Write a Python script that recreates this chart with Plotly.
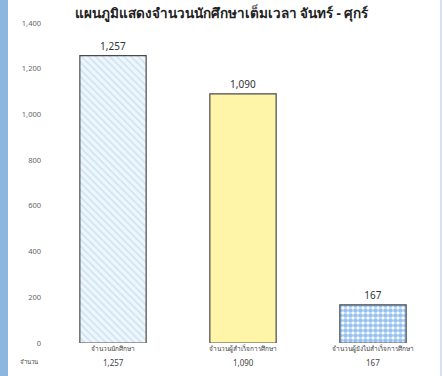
import plotly.graph_objects as go

title_text = "แผนภูมิแสดงจำนวนนักศึกษาเต็มเวลา จันทร์ - ศุกร์"
categories = ["จำนวนนักศึกษา", "จำนวนผู้สำเร็จการศึกษา", "จำนวนผู้ยังไม่สำเร็จการศึกษา"]
values = [1257, 1090, 167]
row_label = "จำนวน"
y_ticks = [0, 200, 400, 600, 800, 1000, 1200, 1400]

fig = go.Figure()

styles = [
    dict(shape="\\", fgcolor="#a9cfea", bgcolor="#eef6fb", size=5, solidity=0.3),
    dict(shape="", fgcolor="#fff3a6", bgcolor="#fff3a6"),
    dict(shape=".", fgcolor="#2f86e0", bgcolor="#ffffff", size=5, solidity=0.7),
]
fills = ["#eef6fb", "#fff5a8", "#ffffff"]

for i, (c, v) in enumerate(zip(categories, values)):
    fig.add_trace(go.Bar(
        x=[c], y=[v],
        width=0.51,
        marker=dict(color=fills[i], line=dict(color="#4a4a4a", width=1.2),
                    pattern=styles[i]),
        text=[f"{v:,}"], textposition="outside",
        textfont=dict(size=10, color="#333333"),
        cliponaxis=False,
        showlegend=False,
    ))

for c, v in zip(categories, values):
    fig.add_annotation(x=c, y=0, xref="x", yref="paper", yshift=-19,
                       yanchor="middle",
                       text=f"{v:,}", showarrow=False,
                       font=dict(size=8, color="#444444"))
fig.add_annotation(x=0, y=0, xref="paper", yref="paper", xshift=-30, yshift=-19,
                   yanchor="middle",
                   text=row_label, showarrow=False,
                   font=dict(size=6, color="#444444"))

# blue frame strips on the edges
fig.add_shape(type="rect", xref="paper", yref="paper",
              x0=-48 / 390, x1=-40 / 390, y0=-0.2, y1=1.2,
              fillcolor="#8db6df", line=dict(width=0), layer="below")
fig.add_shape(type="rect", xref="paper", yref="paper",
              x0=1 + 2.5 / 390, x1=1 + 3.5 / 390, y0=-0.2, y1=1.2,
              fillcolor="#a8c8ea", line=dict(width=0), layer="below")

fig.update_layout(
    width=443, height=376,
    margin=dict(l=48, r=5, t=23, b=33, autoexpand=False),
    paper_bgcolor="white", plot_bgcolor="white",
    font=dict(family="Tahoma, 'Noto Sans', sans-serif", color="#444444"),
    title=dict(text=f"<b>{title_text}</b>", x=0.5, xanchor="center",
               y=0.965, yanchor="middle",
               font=dict(size=13.5, color="#222222")),
    bargap=0.49,
    xaxis=dict(showgrid=False, showline=False, zeroline=False,
               tickfont=dict(size=6.5, color="#444444"), ticks="",
               ticklabelstandoff=0, automargin=False),
    yaxis=dict(range=[0, 1400], tickvals=y_ticks, tickformat=",",
               showgrid=False, showline=False, zeroline=False,
               automargin=False, ticklabelstandoff=6,
               tickfont=dict(size=7.5, color="#666666")),
)

fig.write_html("out.html", config={"displayModeBar": False},
               post_script="document.body.style.margin='0px';document.body.style.overflow='hidden';")
